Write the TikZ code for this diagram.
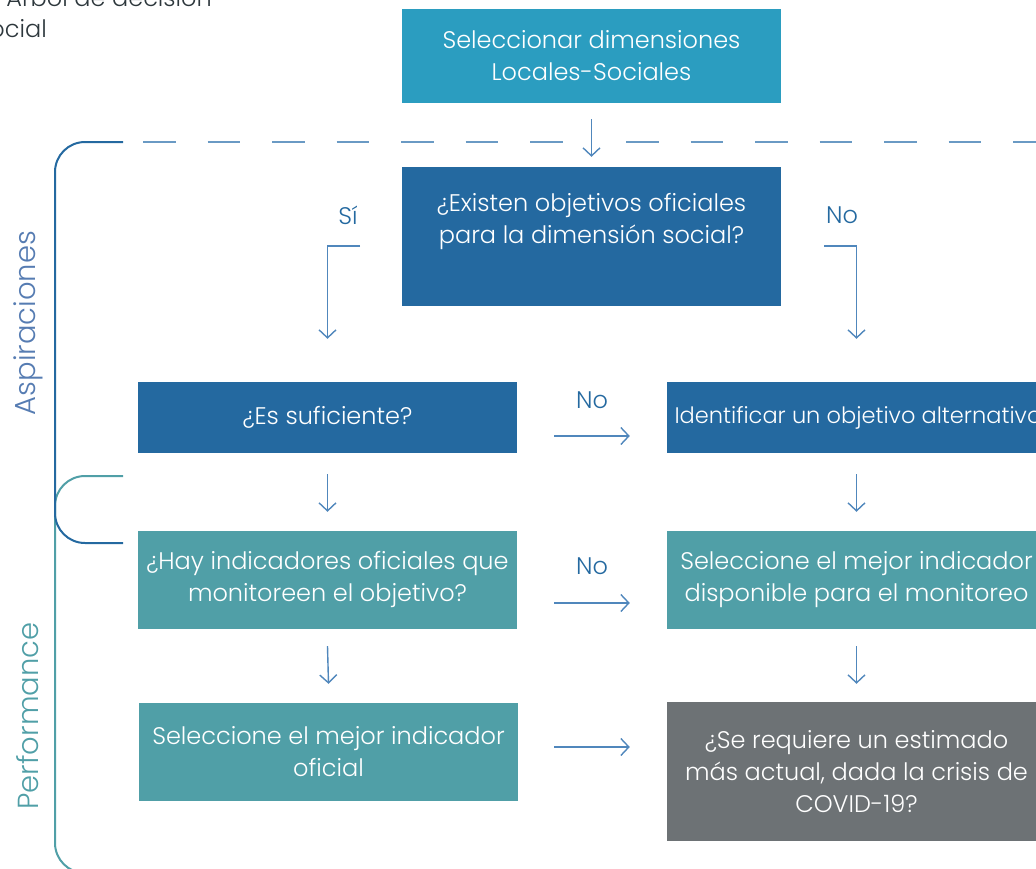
\documentclass[tikz,border=0pt]{standalone}
\usepackage{fontspec}
\setmainfont{Poppins}[UprightFont={* Light}]
\usetikzlibrary{arrows.meta,calc}

\definecolor{skyblue}{RGB}{43,157,192}
\definecolor{deepblue}{RGB}{36,105,160}
\definecolor{tealbox}{RGB}{80,159,167}
\definecolor{greybox}{RGB}{109,114,117}
\definecolor{arrowblue}{RGB}{80,135,188}
\definecolor{dashblue}{RGB}{106,154,196}
\definecolor{labelblue}{RGB}{86,124,178}
\definecolor{darktext}{RGB}{45,55,60}

\tikzset{
  box/.style={draw=none, text=white, align=center, inner sep=0pt,
    minimum width=379pt, font=\fontsize{24}{32}\selectfont},
  arr/.style={draw=arrowblue, line width=1.4pt,
    -{Straight Barb[length=8pt,width=17pt,line width=1.4pt]}},
  branch/.style={text=deepblue, font=\fontsize{24}{28}\selectfont},
  phase/.style={rotate=90, font=\fontsize{29}{32}\selectfont},
  bracket/.style={line width=2pt, rounded corners=30pt},
  sep/.style={draw=dashblue, line width=1.6pt, dash pattern=on 32.5pt off 32pt},
  caption/.style={anchor=base east, text=darktext, inner sep=0pt,
    font=\fontsize{24}{28}\selectfont},
}

\begin{document}
\begin{tikzpicture}[x=1pt,y=-1pt]
\useasboundingbox (0,0) rectangle (1036,868);
\clip (0,0) rectangle (1036,868);

% caption in the upper left corner
\node[caption] (cap1) at (212,6) {Árbol de decisión};
\node[caption] (cap2) at (47,37) {social};

% phase brackets
\draw[bracket, draw=tealbox] (123,476) -- (55,476) -- (55,873) -- (123,873);
\draw[bracket, draw=deepblue] (123,142) -- (55,142) -- (55,543) -- (123,543);
\node[phase, text=labelblue] (asp) at (28,323) {Aspiraciones};
\node[phase, text=tealbox] (perf) at (28,716) {Performance};

% dashed separator
\draw[sep] (143,142) -- (570,142);
\draw[sep] (626,142) -- (1040,142);

% boxes
\node[box, fill=skyblue, minimum height=94pt] (top) at (591.5,56) {Seleccionar dimensiones\\Locales-Sociales};
\node[box, fill=deepblue, minimum height=139pt] (q1) at (591.5,236.5) {};
\node[box, fill=none] (q1t) at (591.5,222) {¿Existen objetivos oficiales\\para la dimensión social?};
\node[box, fill=deepblue, minimum height=71pt] (es) at (327.5,417.5) {¿Es suficiente?};
\node[box, fill=deepblue, minimum height=71pt, font=\fontsize{22.5}{30}\selectfont] (alt) at (856.5,417.5) {\makebox[0pt]{\hspace*{3pt}Identificar un objetivo alternativo}};
\node[box, fill=tealbox, minimum height=98pt] (hay) at (327.5,580) {¿Hay indicadores oficiales que\\monitoreen el objetivo?};
\node[box, fill=tealbox, minimum height=98pt] (selmon) at (856.5,580) {Seleccione el mejor indicador\\disponible para el monitoreo};
\node[box, fill=tealbox, minimum height=98pt] (selof) at (328.5,752) {Seleccione el mejor indicador\\oficial};
\node[box, fill=greybox, minimum height=139pt] (grey) at (856.5,771.5) {¿Se requiere un estimado\\más actual, dada la crisis de\\COVID-19?};

% branch labels
\node[branch] (si) at (348,215) {Sí};
\node[branch] (no1) at (842,215) {No};
\node[branch] (no2) at (592,400) {No};
\node[branch] (no3) at (592,566) {No};

% connectors
\draw[arr] ([yshift=-16pt]top.south) -- ([yshift=10pt]q1.north);
\coordinate (siL) at (360,246);
\coordinate (noR) at (824,246);
\draw[arr] (siL) -| ([yshift=43pt]es.north);
\draw[arr] (noR) -| ([yshift=43pt]alt.north);
\draw[arr] ([xshift=37pt,yshift=-18.5pt]es.east) -- ([xshift=-37pt,yshift=-18.5pt]alt.west);
\draw[arr] ([yshift=-21pt]es.south) -- ([yshift=19pt]hay.north);
\draw[arr] ([yshift=-21pt]alt.south) -- ([yshift=19pt]selmon.north);
\draw[arr] ([xshift=37pt,yshift=-23pt]hay.east) -- ([xshift=-37pt,yshift=-23pt]selmon.west);
\draw[arr] ([yshift=-17pt]hay.south) -- ([yshift=19pt]selof.north);
\draw[arr] ([yshift=-17pt]selmon.south) -- ([yshift=18pt]grey.north);
\draw[arr] ([xshift=36pt,yshift=5pt]selof.east) -- ([xshift=-37pt,yshift=24.5pt]grey.west);
\end{tikzpicture}
\end{document}
